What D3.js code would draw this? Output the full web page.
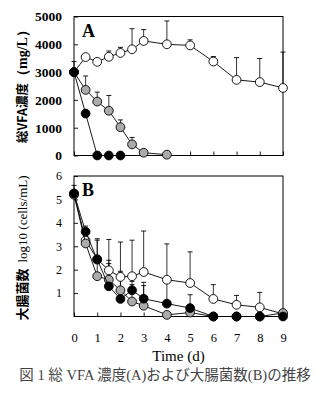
<!DOCTYPE html>
<html lang="ja">
<head>
<meta charset="UTF-8">
<title>総VFA濃度および大腸菌数の推移</title>
<style>
  body { margin: 0; background: #fff; }
  svg { display: block; }
  .axis path { display: none; }
  .axis line { stroke: #000; stroke-width: 0.9px; }
</style>
</head>
<body>
<div id="chart"></div>
<script src="https://cdn.jsdelivr.net/npm/d3@7/dist/d3.min.js"></script>
<script>
// days sampled
const days = [0, 0.5, 1, 1.5, 2, 2.5, 3, 4, 5, 6, 7, 8, 9];
const xTicks = [0, 1, 2, 3, 4, 5, 6, 7, 8, 9];

// Panel A: total VFA (mg/L)
const vfaOpen = [3000, 3540, 3370, 3550, 3690, 3820, 4120, 4000, 3960, 3380, 2720, 2640, 2430];
const vfaOpenErr = [380, 0, 0, 210, 200, 740, 410, 840, 200, 180, 800, 850, 1290];
const vfaGray = [3000, 2360, 1940, 1610, 1020, 400, 100, 30];
const vfaGrayErr = [0, 500, 340, 550, 260, 250, 0, 0];
const vfaBlack = [3000, 1510, 0, 0, 0];
const vfaBlackErr = [0, 0, 0, 0, 0];
const vfaTicks = [0, 1000, 2000, 3000, 4000, 5000];

// Panel B: E. coli log10 (cells/mL)
const ecOpen = [5.25, 3.25, 2.45, 1.97, 1.69, 1.72, 1.9, 1.57, 1.43, 0.75, 0.5, 0.39, 0.11];
const ecOpenErr = [0.35, 0.61, 0.87, 1.32, 1.49, 1.54, 1.75, 1.53, 1.33, 0.61, 0.4, 0.64, 0.1];
const ecGray = [5.2, 3.12, 1.72, 1.57, 1.12, 0.64, 0.46, 0.07, 0.17, 0, 0, 0, 0.15];
const ecGrayErr = [0, 0, 1.54, 0.69, 0.81, 0.72, 0.86, 0, 0, 0, 0, 0, 0];
const ecBlack = [5.25, 3.62, 2.43, 1.29, 0.75, 1.12, 0.76, 0.55, 0.36, 0, 0, 0, 0];
const ecBlackErr = [0, 0, 0, 1.11, 1.11, 0.38, 0.7, 0.95, 0.57, 0, 0, 0, 0];
const ecTicks = [1, 2, 3, 4, 5, 6];

const SERIF = "'Liberation Serif', 'Times New Roman', serif";
const CJK = "'Noto Sans CJK JP', sans-serif";

const W = 334, H = 417;
const svg = d3.select("#chart").append("svg")
    .attr("width", W).attr("height", H);
svg.append("rect").attr("width", W).attr("height", H).attr("fill", "#fff");

const x = d3.scaleLinear().domain([0, 9]).range([74, 283]);

function panel(opts) {
    const y = opts.y;
    const g = svg.append("g");
    const [y0, y1] = y.range();

    // inside ticks
    g.append("g").attr("class", "axis")
        .attr("transform", `translate(${x(0)},0)`)
        .call(d3.axisLeft(y).tickValues(opts.yTicks).tickFormat(d3.format("d"))
            .tickSize(-4).tickPadding(12))
        .call(s => s.selectAll("text")
            .attr("font-family", SERIF)
            .attr("font-size", opts.tickFont)
            .attr("font-weight", opts.tickWeight)
            .attr("fill", "#000"));

    const xa = g.append("g").attr("class", "axis")
        .attr("transform", `translate(0,${y0})`)
        .call(d3.axisBottom(x).tickValues(xTicks).tickFormat(d3.format("d"))
            .tickSize(-4).tickPadding(17));
    if (opts.xLabels) {
        xa.selectAll("text").attr("font-family", SERIF)
            .attr("font-size", 12.5).attr("fill", "#000");
    } else {
        xa.selectAll("text").remove();
    }

    g.append("rect")
        .attr("x", x(0)).attr("y", y1)
        .attr("width", x(9) - x(0)).attr("height", y0 - y1)
        .attr("fill", "none").attr("stroke", "#000").attr("stroke-width", 1);

    const line = d3.line().x((d, i) => x(days[i])).y(d => y(d));

    opts.series.forEach(s => {
        // error bars (upper only)
        s.err.forEach((e, i) => {
            if (!e) return;
            const cx = x(days[i]), top = y(s.vals[i] + e);
            g.append("line").attr("x1", cx).attr("x2", cx)
                .attr("y1", y(s.vals[i])).attr("y2", top)
                .attr("stroke", "#000").attr("stroke-width", 0.8);
            g.append("line").attr("x1", cx - 2.5).attr("x2", cx + 2.5)
                .attr("y1", top).attr("y2", top)
                .attr("stroke", "#000").attr("stroke-width", 0.9);
        });
    });

    opts.series.forEach(s => {
        g.append("path").datum(s.vals)
            .attr("d", line)
            .attr("fill", "none").attr("stroke", "#000").attr("stroke-width", 0.9);
        g.selectAll(null).data(s.vals).join("circle")
            .attr("cx", (d, i) => x(days[i]))
            .attr("cy", d => y(d))
            .attr("r", 4.4)
            .attr("fill", s.fill)
            .attr("stroke", "#000").attr("stroke-width", 0.9);
    });

    g.append("text")
        .attr("x", 82).attr("y", y1 + 20)
        .attr("font-family", SERIF)
        .attr("font-size", 18).attr("font-weight", "bold")
        .text(opts.letter);
}

panel({
    y: d3.scaleLinear().domain([0, 5000]).range([155.5, 16.5]),
    yTicks: vfaTicks, tickFont: 13.5, tickWeight: "bold", xLabels: false, letter: "A",
    series: [
        { vals: vfaOpen, err: vfaOpenErr, fill: "#fff" },
        { vals: vfaGray, err: vfaGrayErr, fill: "#ababab" },
        { vals: vfaBlack, err: vfaBlackErr, fill: "#000" }
    ]
});

panel({
    y: d3.scaleLinear().domain([0, 6]).range([316.5, 176]),
    yTicks: ecTicks, tickFont: 12, tickWeight: "normal", xLabels: true, letter: "B",
    series: [
        { vals: ecOpen, err: ecOpenErr, fill: "#fff" },
        { vals: ecGray, err: ecGrayErr, fill: "#ababab" },
        { vals: ecBlack, err: ecBlackErr, fill: "#000" }
    ]
});

// axis titles
const tA = svg.append("text")
    .attr("transform", "translate(27,83) rotate(-90)")
    .attr("text-anchor", "middle").attr("font-size", 12.5);
tA.append("tspan").attr("font-family", CJK)
    .attr("font-weight", "bold").text("総VFA濃度");
tA.append("tspan").attr("font-family", SERIF)
    .attr("font-weight", "bold").attr("font-size", 14).text("（mg/L）");

const tB = svg.append("text")
    .attr("transform", "translate(27,248) rotate(-90)")
    .attr("text-anchor", "middle").attr("font-size", 13);
tB.append("tspan").attr("font-family", CJK)
    .attr("font-weight", "bold").text("大腸菌数");
tB.append("tspan").attr("font-family", SERIF).attr("dx", 6).text("log10 (cells/mL)");

svg.append("text")
    .attr("x", x(4.5)).attr("y", 361)
    .attr("font-family", SERIF)
    .attr("text-anchor", "middle").attr("font-size", 15)
    .text("Time (d)");

svg.append("text")
    .attr("x", 165).attr("y", 380)
    .attr("text-anchor", "middle").attr("font-size", 14.5)
    .attr("font-family", "'Liberation Serif', 'Noto Sans CJK JP', serif")
    .attr("fill", "#444")
    .text("図 1 総 VFA 濃度(A)および大腸菌数(B)の推移");
</script>
</body>
</html>
